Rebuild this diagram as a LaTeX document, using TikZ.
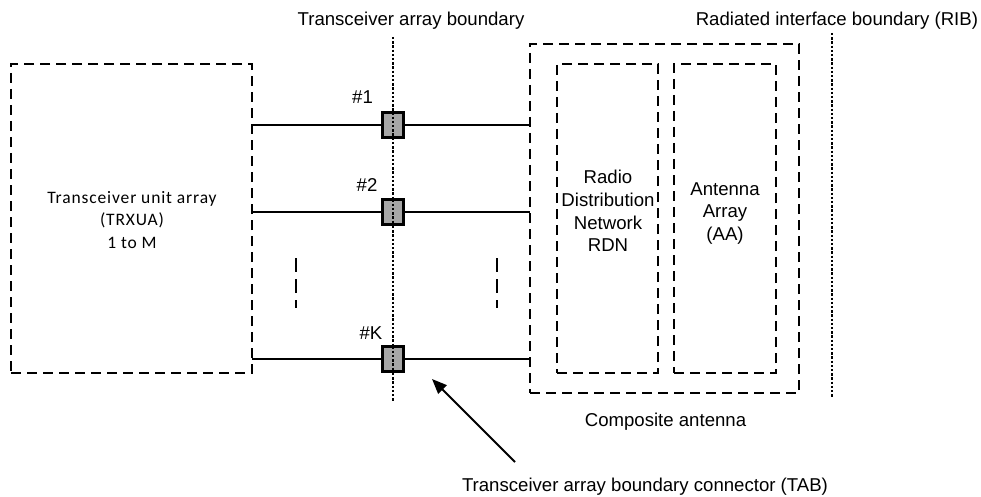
\documentclass[tikz,border=0pt]{standalone}
\usepackage{fontspec}
\setmainfont{Liberation Sans}
\newfontfamily\calfont{Carlito}[LetterSpace=5]
\usetikzlibrary{arrows.meta}
\definecolor{tabgray}{HTML}{A6A6A6}
\begin{document}
\begin{tikzpicture}[x=1pt,y=-1pt,
  every node/.style={font=\fontsize{18.6}{22.7}\selectfont, inner sep=0pt, outer sep=0pt},
  dbox/.style={draw, line width=2pt, dash pattern=on 10pt off 6pt, anchor=north west},
  dotline/.style={line width=2.4pt, dash pattern=on 2.4pt off 1.8pt},
  wire/.style={line width=2.2pt},
  tabbox/.style={draw, line width=2.6pt, fill=tabgray, minimum width=21pt, minimum height=25pt},
  contmark/.style={line width=2pt, dash pattern=on 14pt off 7pt},
  lbl/.style={anchor=base, text=black},
  ptr/.style={line width=1.8pt, -{Triangle[length=15pt,width=12pt]}}]
\useasboundingbox (0,0) rectangle (981,497);

% boxes
\node[dbox, minimum width=241pt, minimum height=309pt] (trx) at (11,64) {};
\node[dbox, minimum width=269pt, minimum height=349pt] (comp) at (530,44) {};
\node[dbox, minimum width=101pt, minimum height=309pt] (rdn) at (557,64) {};
\node[dbox, minimum width=102pt, minimum height=309pt] (aa) at (674,64) {};

% box texts
\node[align=center, font=\calfont\fontsize{17.5}{22.5}\selectfont] (trxt) at (132,220) {Transceiver unit array\\(TRXUA)\\1 to M};
\node[align=center] (rdnt) at (608,211) {Radio\\Distribution\\Network\\RDN};
\node[align=center] (aat) at (725,213.5) {Antenna\\Array\\(AA)};

% boundaries
\coordinate (tabtop) at (393,37);
\coordinate (tabbot) at (393,401);
\coordinate (ribtop) at (832,33);
\coordinate (ribbot) at (832,398);
\draw[dotline] (tabtop) -- (tabbot);
\draw[dotline] (ribtop) -- (ribbot);

% connectors
\node[tabbox] (c1) at (393,125) {};
\node[tabbox] (c2) at (393,212) {};
\node[tabbox] (cK) at (393,359) {};
\foreach \c in {c1,c2,cK}{
  \draw[wire] (trx.east |- \c) -- (\c.west);
  \draw[wire] (\c.east) -- (comp.west |- \c);
  \draw[dotline] (\c.north) -- (\c.south);
}

\node[lbl] (l1) at (362.5,104) {\#1};
\node[lbl] (l2) at (367,191.7) {\#2};
\node[lbl] (lK) at (371,339) {\#K};

% continuation marks
\coordinate (m1a) at (296,258); \coordinate (m1b) at (296,308);
\coordinate (m2a) at (497,258); \coordinate (m2b) at (497,308);
\draw[contmark] (m1a) -- (m1b);
\draw[contmark] (m2a) -- (m2b);

% labels
\node[lbl] (tabbnd) at (411,25.7) {Transceiver array boundary};
\node[anchor=base east] (rib) at (978,25.7) {Radiated interface boundary (RIB)};
\node[lbl] (compl) at (665.5,426) {Composite antenna};
\node[anchor=base west] (tabl) at (462,491.7) {Transceiver array boundary connector (TAB)};

\coordinate (tabtail) at (515,462);
\coordinate (tabtip) at (432,379);
\draw[ptr] (tabtail) -- (tabtip);
\end{tikzpicture}
\end{document}
